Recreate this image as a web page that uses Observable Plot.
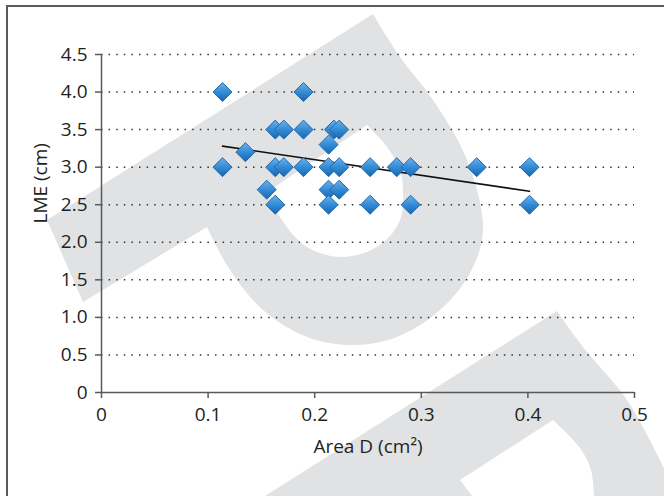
<!DOCTYPE html>
<html>
<head>
<meta charset="utf-8">
<script src="https://cdn.jsdelivr.net/npm/d3@7"></script>
<script src="https://cdn.jsdelivr.net/npm/@observablehq/plot@0.6"></script>
<style>
  html, body { margin: 0; padding: 0; background: #fff; }
  #chart { position: relative; width: 664px; height: 496px; overflow: hidden; font-family: "Open Sans", sans-serif; }
  #watermark { position: absolute; left: 0; top: 0; }
  #frame { position: absolute; left: 6px; top: 5px; width: 700px; height: 520px; border-top: 2px solid #5a5a5a; border-left: 2px solid #5a5a5a; box-sizing: border-box; }
  #plot { position: absolute; left: 0; top: 0; }
</style>
</head>
<body>
<div id="chart">
  <svg id="watermark" width="664" height="496"></svg>
  <div id="frame"></div>
  <div id="plot"></div>
</div>
<script>
// ---- data ----
const areaD = [0.1135, 0.1895,
  0.163, 0.171, 0.1895, 0.218, 0.223,
  0.213, 0.135,
  0.1135, 0.163, 0.171, 0.1895, 0.213, 0.223, 0.252, 0.277, 0.29, 0.352, 0.4015,
  0.155, 0.213, 0.223,
  0.163, 0.213, 0.252, 0.29, 0.4015];
const lme = [4.0, 4.0,
  3.5, 3.5, 3.5, 3.5, 3.5,
  3.3, 3.2,
  3.0, 3.0, 3.0, 3.0, 3.0, 3.0, 3.0, 3.0, 3.0, 3.0, 3.0,
  2.7, 2.7, 2.7,
  2.5, 2.5, 2.5, 2.5, 2.5];
const xTicks = [0, 0.1, 0.2, 0.3, 0.4, 0.5];
const xTickLabels = ["0", "0.1", "0.2", "0.3", "0.4", "0.5"];
const yTicks = [0, 0.5, 1.0, 1.5, 2.0, 2.5, 3.0, 3.5, 4.0, 4.5];
const yTickLabels = ["0", "0.5", "1.0", "1.5", "2.0", "2.5", "3.0", "3.5", "4.0", "4.5"];
const xTitle = "Area D (cm²)";
const yTitle = "LME (cm)";

const data = areaD.map((x, i) => ({x, y: lme[i]}));

// ---- decorative background watermark (page decoration, not data) ----
(function drawWatermark() {
  const svg = d3.select("#watermark");
  const curve = d3.line().curve(d3.curveCatmullRom.alpha(0.5));
  const seg = pts => curve(pts).slice(1);
  const shape1 =
    "M83,302L47,220L373,14" +
    "L" + seg([[373,14],[400,57],[433,100],[467,160],[483,230],[470,273],[440,310],[397,337],[353,345],[307,337],[263,310],[230,270],[207,227]]) +
    "Z" +
    "M367,125L270,190" +
    "L" + seg([[270,190],[280,217],[307,247],[343,257],[380,245],[400,220],[403,190],[400,170],[387,147],[367,125]]) + "Z";
  const shape2 =
    "M557,311" +
    "L" + seg([[557,311],[583,347],[627,400],[664,468]]) +
    "L664,496L594,496" +
    "L" + seg([[594,496],[591,470],[580,448],[553,420]]) +
    "L460,480L472,496L265,496Z";
  svg.append("path").attr("d", shape1).attr("fill", "#e1e2e4").attr("fill-rule", "evenodd");
  svg.append("path").attr("d", shape2).attr("fill", "#e1e2e4");
})();

const diamond = {
  draw(ctx, size) {
    const h = Math.sqrt(size / Math.PI);
    ctx.moveTo(0, -h); ctx.lineTo(h, 0); ctx.lineTo(0, h); ctx.lineTo(-h, 0); ctx.closePath();
  }
};

const FS = 19;

const chart = Plot.plot({
  width: 664,
  height: 496,
  marginLeft: 101,
  marginRight: 30,
  marginTop: 54,
  marginBottom: 104,
  style: {background: "transparent", fontFamily: "'Open Sans', sans-serif", fontSize: FS + "px", color: "#231f20"},
  x: {domain: [0, 0.5], label: null},
  y: {domain: [0, 4.5], label: null},
  marks: [
    Plot.gridY(yTicks.filter(d => d > 0), {stroke: "#333", strokeOpacity: 1, strokeWidth: 1.5, strokeDasharray: "1.5,6.1"}),
    Plot.ruleY([0], {stroke: "#5a5a5a", strokeWidth: 1.5}),
    Plot.ruleX([0], {stroke: "#5a5a5a", strokeWidth: 1.5}),
    Plot.axisX(xTicks, {tickFormat: d => xTickLabels[xTicks.indexOf(d)], tickSize: 6, tickPadding: 9, stroke: "#5a5a5a", strokeWidth: 1.5, label: null, fill: "#231f20", fontSize: FS}),
    Plot.axisY(yTicks, {tickFormat: d => yTickLabels[yTicks.indexOf(d)], tickSize: 6, tickPadding: 8, stroke: "#5a5a5a", strokeWidth: 1.5, label: null, fill: "#231f20", fontSize: FS}),
    Plot.linearRegressionY(data, {x: "x", y: "y", ci: 0, stroke: "#111", strokeWidth: 1.6}),
    Plot.dot(data, {x: "x", y: "y", symbol: diamond, r: 9.5, fill: "url(#diamondGrad)", stroke: "#2568a8", strokeWidth: 1}),
    Plot.text([xTitle], {text: d => d, frameAnchor: "bottom", dy: 54, lineAnchor: "middle", fontSize: FS, fill: "#231f20"}),
    Plot.text([yTitle], {text: d => d, frameAnchor: "left", dx: -61, rotate: -90, lineAnchor: "middle", fontSize: FS, fill: "#231f20"})
  ]
});

const defs = d3.select(chart).insert("defs", ":first-child");
const grad = defs.append("linearGradient").attr("id", "diamondGrad")
  .attr("x1", 0).attr("y1", 0).attr("x2", 0).attr("y2", 1);
grad.append("stop").attr("offset", 0).attr("stop-color", "#6ab2eb");
grad.append("stop").attr("offset", 0.5).attr("stop-color", "#338cd6");
grad.append("stop").attr("offset", 1).attr("stop-color", "#1665b3");

document.getElementById("plot").appendChild(chart);
</script>
</body>
</html>
